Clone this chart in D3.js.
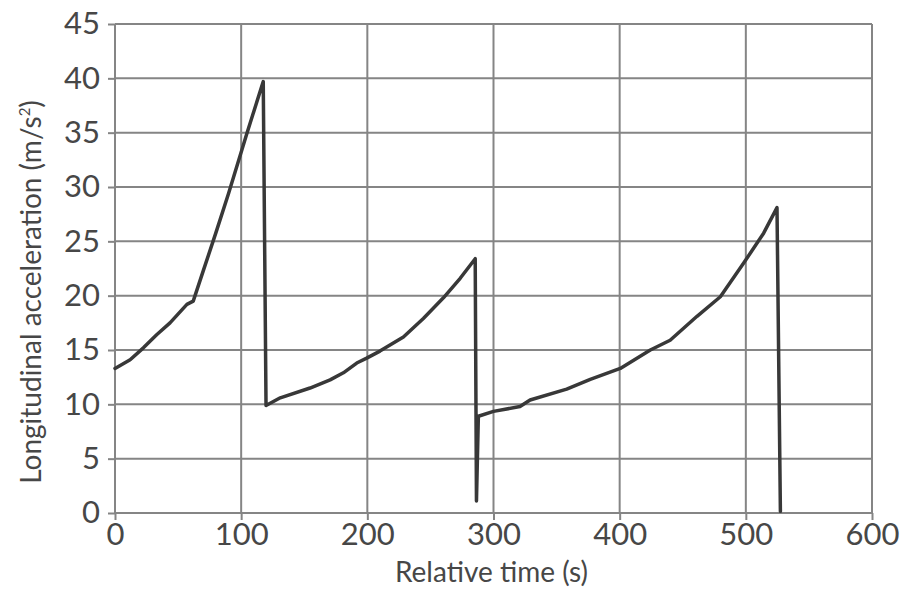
<!DOCTYPE html>
<html>
<head>
<meta charset="utf-8">
<script src="https://cdn.jsdelivr.net/npm/d3@7"></script>
<style>
  html, body { margin: 0; padding: 0; background: #fff; }
  svg text { font-family: Lato, "Noto Sans", sans-serif; font-weight: 400; fill: #474747; }
</style>
</head>
<body>
<svg id="chart" width="900" height="594"></svg>
<script>
// relative time (s) vs longitudinal acceleration (m/s^2)
const times = [0, 12, 22.5, 33, 43.6, 57, 62, 70, 80, 90, 104.7, 117.5,
  119.7, 131, 154.6, 170.5, 181, 191.6, 199.5, 210, 228.6, 244.4, 260.3, 273.6, 285.5,
  286.5, 288, 300, 321, 329, 358, 376.7, 400.5, 424.3, 440, 461.3, 479.8, 498.3, 514.1, 524.7,
  527.4];
const accel = [13.3, 14.1, 15.2, 16.4, 17.5, 19.2, 19.5, 22.3, 25.8, 29.4, 35, 39.7,
  9.9, 10.6, 11.5, 12.25, 12.9, 13.8, 14.25, 14.9, 16.2, 17.9, 19.8, 21.6, 23.4,
  1.1, 8.9, 9.35, 9.8, 10.4, 11.4, 12.3, 13.3, 15.0, 15.9, 18.1, 19.9, 23.0, 25.75, 28.1,
  0.15];
const xTicks = [0, 100, 200, 300, 400, 500, 600];
const yTicks = [0, 5, 10, 15, 20, 25, 30, 35, 40, 45];

const MARGIN = { left: 115, top: 24 };
const WIDTH = 757;
const HEIGHT = 489;
const GRID_COLOR = '#858585';

const svg = d3.select('#chart');
const chart = svg.append('g').attr('transform', `translate(${MARGIN.left}, ${MARGIN.top})`);

const xScale = d3.scaleLinear().domain([0, 600]).range([0, WIDTH]);
const yScale = d3.scaleLinear().domain([0, 45]).range([HEIGHT, 0]);

// grid
chart.append('g').selectAll('line.v').data(xTicks).enter().append('line')
  .attr('x1', d => xScale(d)).attr('x2', d => xScale(d))
  .attr('y1', 0).attr('y2', HEIGHT)
  .attr('stroke', GRID_COLOR).attr('stroke-width', 2);
chart.append('g').selectAll('line.h').data(yTicks).enter().append('line')
  .attr('x1', 0).attr('x2', WIDTH)
  .attr('y1', d => yScale(d)).attr('y2', d => yScale(d))
  .attr('stroke', GRID_COLOR).attr('stroke-width', 2);

const xAxis = chart.append('g')
  .attr('transform', `translate(0, ${HEIGHT})`)
  .call(d3.axisBottom(xScale).tickValues(xTicks).tickSize(7).tickPadding(3));
const yAxis = chart.append('g')
  .call(d3.axisLeft(yScale).tickValues(yTicks).tickSize(7).tickPadding(8));

[xAxis, yAxis].forEach(ax => {
  ax.select('.domain').remove();
  ax.selectAll('.tick line').attr('stroke', GRID_COLOR).attr('stroke-width', 2);
  ax.selectAll('.tick text').attr('font-size', 31).style('font-family', 'Lato, "Noto Sans", sans-serif').attr('fill', '#474747');
});

const data = times.map((t, i) => ({ x: t, y: accel[i] }));
const line = d3.line().x(d => xScale(d.x)).y(d => yScale(d.y));
chart.append('path')
  .datum(data)
  .attr('fill', 'none')
  .attr('stroke', '#383838')
  .attr('stroke-width', 3.5)
  .attr('stroke-linejoin', 'round')
  .attr('stroke-linecap', 'round')
  .attr('d', line);

svg.append('text')
  .attr('x', MARGIN.left + WIDTH / 2 - 2)
  .attr('y', 582)
  .attr('text-anchor', 'middle')
  .attr('font-size', 28)
  .text('Relative time (s)');

const yLabel = svg.append('text')
  .attr('transform', 'translate(41, 292) rotate(-90)')
  .attr('text-anchor', 'middle')
  .attr('font-size', 28);
yLabel.append('tspan').text('Longitudinal acceleration (m/s');
yLabel.append('tspan').attr('font-size', 15).attr('dy', -11).text('2');
yLabel.append('tspan').attr('dy', 11).text(')');
</script>
</body>
</html>
